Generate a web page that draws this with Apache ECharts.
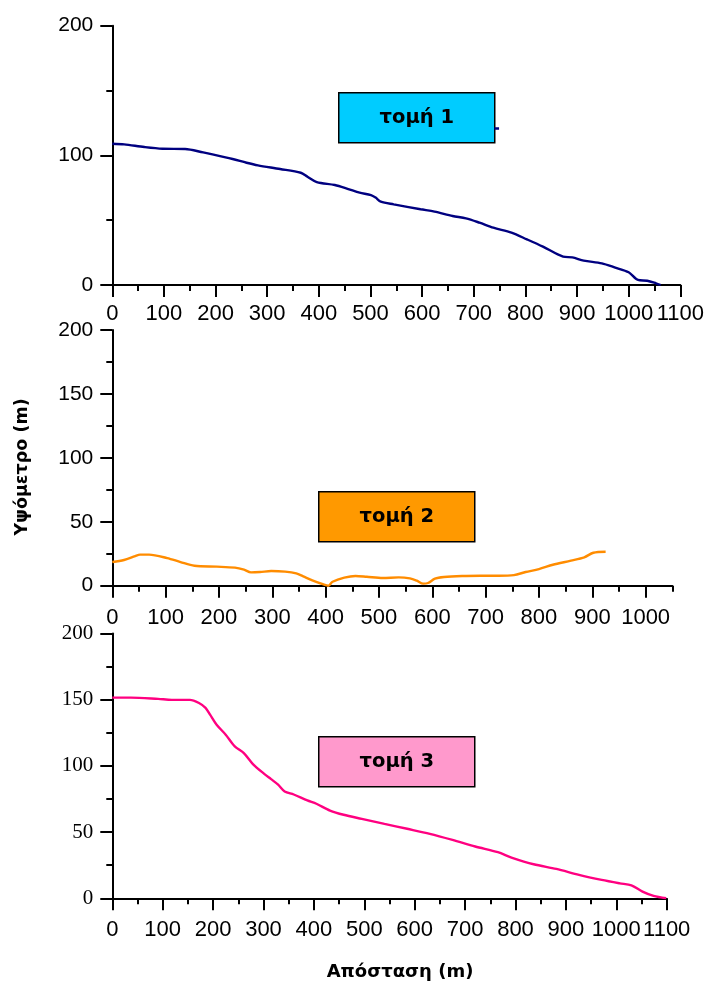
<!DOCTYPE html>
<html>
<head>
<meta charset="utf-8">
<script src="https://cdn.jsdelivr.net/npm/echarts@6/dist/echarts.min.js"></script>
<style>
  html, body { margin: 0; padding: 0; background: #fff; }
  #chart { width: 709px; height: 983px; }
</style>
</head>
<body>
<div id="chart"></div>
<script>
// Τομή 1: απόσταση (m) και υψόμετρο (m)
const tomi1Dist = [0, 23, 62, 97, 141, 176, 194, 233, 260, 282, 325, 365, 378, 396, 431, 457, 479, 501, 510, 520, 545, 597, 624, 659, 685, 711, 738, 773, 803, 834, 873, 891, 913, 948, 974, 1000, 1018, 1036, 1053, 1062];
const tomi1Elev = [109, 108.5, 106.4, 105.1, 104.9, 102.3, 100.8, 97.2, 94.3, 92.3, 89.5, 86.6, 83.5, 79.4, 77.1, 74, 71.2, 69.4, 67.4, 64.3, 62.2, 58.4, 56.6, 53.2, 51.4, 48.1, 44.2, 40.4, 35.2, 29.6, 21.9, 21.3, 18.8, 16.7, 13.4, 9.8, 3.9, 3.3, 1.3, 0];
// short stub beside the label box of τομή 1
const tomi1StubDist = [740, 749];
const tomi1StubElev = [120.7, 120.7];

// Τομή 2
const tomi2Dist = [0, 22, 43, 52, 69, 103, 128, 154, 196, 230, 247, 260, 277, 298, 324, 345, 358, 375, 396, 405, 413, 435, 456, 477, 507, 537, 558, 571, 583, 592, 605, 622, 656, 690, 724, 753, 775, 800, 826, 860, 885, 902, 925];
const tomi2Elev = [18.5, 20.1, 23.2, 24.3, 24.3, 21.6, 18.5, 15.6, 14.9, 14.1, 12.5, 10.4, 10.7, 11.5, 11, 9.6, 7.3, 4.2, 1, 0, 3.1, 6.3, 7.6, 7, 6, 6.5, 5.7, 3.9, 1.6, 2.1, 5.5, 6.8, 7.6, 7.8, 7.8, 8.3, 10.7, 13, 16.4, 19.6, 22.2, 25.8, 26.6];

// Τομή 3
const tomi3Dist = [0, 37, 91, 118, 154, 172, 185, 194, 207, 225, 243, 261, 279, 302, 315, 329, 342, 360, 387, 405, 432, 459, 495, 540, 585, 630, 675, 720, 765, 792, 836, 881, 926, 971, 1007, 1030, 1052, 1074, 1099];
const tomi3Elev = [151.6, 151.6, 150.6, 149.9, 149.9, 147.5, 143.8, 138.7, 131.1, 123.6, 114.8, 109.7, 101.4, 93.8, 90, 85.8, 80.7, 78.4, 73.9, 71.4, 66.3, 63.1, 60, 56.2, 52.5, 48.7, 44.1, 39.1, 34.8, 30.8, 25.7, 22.2, 17.7, 13.9, 11.3, 9.8, 5, 1.8, 0];

// Tick positions of the distance axis of τομή 2
const tomi2MajorTicks = [0, 100, 200, 300, 400, 500, 600, 700, 800, 900, 1000];
const tomi2MinorTicks = [50, 150, 250, 350, 450, 550, 650, 750, 850, 950, 1050];

const boxLabels = ['τομή 1', 'τομή 2', 'τομή 3'];
const boxColors = ['#00CCFF', '#FF9900', '#FF99CC'];

const pairs = (xs, ys) => xs.map((x, i) => [x, ys[i]]);

const sans = 'Liberation Sans';
const serif = 'Liberation Serif';
const bold = 'DejaVu Sans';

const lineW = 2.4;
const plain = v => String(v);
const axisLine = { show: true, onZero: true, lineStyle: { color: '#000', width: 2 } };
const majorTick = { show: true, inside: false, length: 12, lineStyle: { color: '#000', width: 2 } };
const minorTick = { show: true, splitNumber: 2, length: 6, lineStyle: { color: '#000', width: 2 } };

function xAxisBase(grid, max, margin) {
  return {
    type: 'value', gridIndex: grid, min: 0, max: max, interval: 100,
    axisLine: axisLine, axisTick: majorTick, minorTick: minorTick,
    splitLine: { show: false },
    axisLabel: { color: '#000', fontFamily: sans, fontSize: 22, margin: margin, formatter: plain }
  };
}
function yAxisBase(grid, interval, family) {
  return {
    type: 'value', gridIndex: grid, min: 0, max: 200, interval: interval,
    axisLine: axisLine, axisTick: majorTick, minorTick: minorTick,
    splitLine: { show: false },
    axisLabel: { color: '#000', fontFamily: family, fontSize: 21, margin: 19, formatter: plain }
  };
}

const xMid = xAxisBase(1, 1050, 21);
xMid.minorTick = { show: false };
xMid.axisTick = Object.assign({}, majorTick, { customValues: tomi2MajorTicks });
xMid.axisLabel = Object.assign({}, xMid.axisLabel, { customValues: tomi2MajorTicks });
const xMidMinor = {
  type: 'value', gridIndex: 1, min: 0, max: 1050, position: 'bottom',
  axisLine: { show: false },
  axisLabel: { show: false },
  splitLine: { show: false },
  axisTick: { show: true, length: 6, customValues: tomi2MinorTicks, lineStyle: { color: '#000', width: 2 } }
};

function labelBox(left, top, i) {
  return {
    type: 'group', left: left, top: top,
    children: [
      { type: 'rect', shape: { x: 0, y: 0, width: 156, height: 50 },
        style: { fill: boxColors[i], stroke: '#000', lineWidth: 1.5 } },
      { type: 'text', x: 78, y: 25,
        style: { text: boxLabels[i], fill: '#000', font: 'bold 19.5px "' + bold + '"', align: 'center', verticalAlign: 'middle' } }
    ]
  };
}

const chart = echarts.init(document.getElementById('chart'), null, { renderer: 'canvas' });
chart.setOption({
  animation: false,
  backgroundColor: '#fff',
  grid: [
    { left: 112.3, top: 25.7, width: 568, height: 259.3, outerBoundsMode: 'none' },
    { left: 112.3, top: 330, width: 560, height: 255.7, outerBoundsMode: 'none' },
    { left: 112.3, top: 633.5, width: 554.4, height: 264.8, outerBoundsMode: 'none' }
  ],
  xAxis: [xAxisBase(0, 1100, 18), xMid, xAxisBase(2, 1100, 21), xMidMinor],
  yAxis: [yAxisBase(0, 100, sans), yAxisBase(1, 50, sans), yAxisBase(2, 50, serif)],
  series: [
    { type: 'line', xAxisIndex: 0, yAxisIndex: 0, data: pairs(tomi1Dist, tomi1Elev), smooth: 0.3,
      showSymbol: false, lineStyle: { color: '#000080', width: lineW } },
    { type: 'line', xAxisIndex: 0, yAxisIndex: 0, data: pairs(tomi1StubDist, tomi1StubElev),
      showSymbol: false, lineStyle: { color: '#000080', width: lineW } },
    { type: 'line', xAxisIndex: 1, yAxisIndex: 1, data: pairs(tomi2Dist, tomi2Elev), smooth: 0.3,
      showSymbol: false, lineStyle: { color: '#FF8C00', width: lineW } },
    { type: 'line', xAxisIndex: 2, yAxisIndex: 2, data: pairs(tomi3Dist, tomi3Elev), smooth: 0.3,
      showSymbol: false, lineStyle: { color: '#FF0080', width: lineW } }
  ],
  graphic: [
    labelBox(338, 92, 0),
    labelBox(318, 491, 1),
    labelBox(318, 736, 2),
    { type: 'text', x: 22, y: 467, rotation: Math.PI / 2,
      style: { text: 'Υψόμετρο (m)', fill: '#000', font: 'bold 17.5px "' + bold + '"', align: 'center', verticalAlign: 'middle' } },
    { type: 'text', x: 400, y: 972,
      style: { text: 'Απόσταση (m)', fill: '#000', font: 'bold 18px "' + bold + '"', align: 'center', verticalAlign: 'middle' } }
  ]
});
</script>
</body>
</html>
